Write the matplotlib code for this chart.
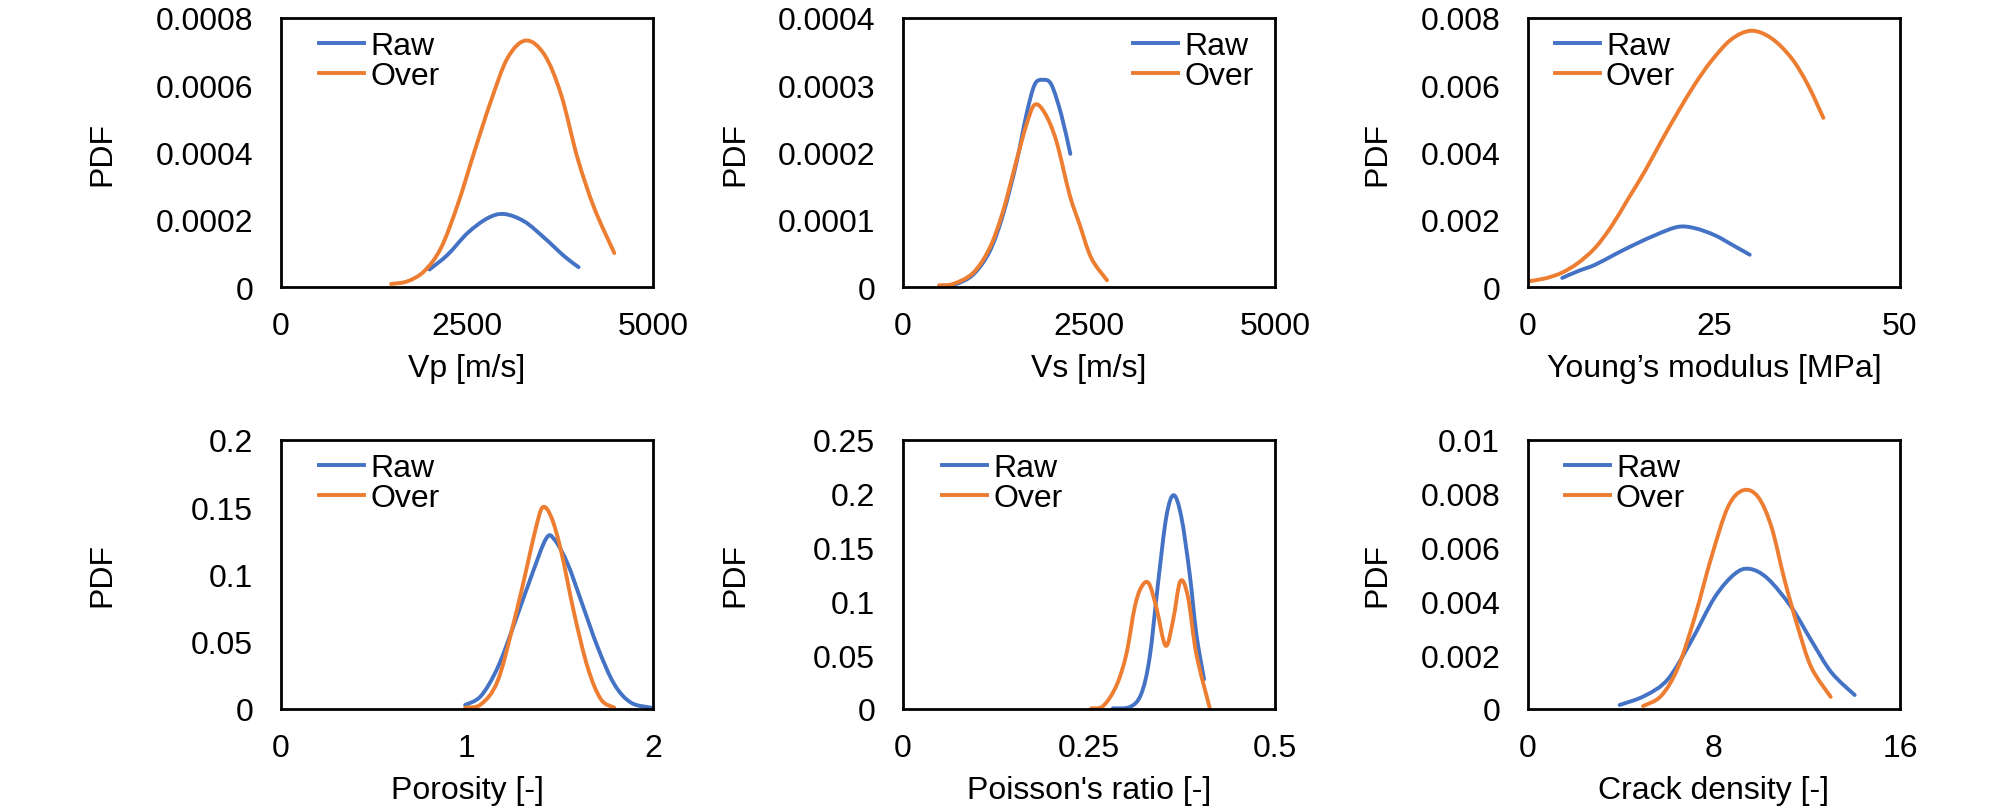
import matplotlib
matplotlib.use("Agg")
import matplotlib.pyplot as plt
import numpy as np
from matplotlib.path import Path
from matplotlib.patches import PathPatch
from matplotlib.lines import Line2D
from matplotlib.ticker import FormatStrFormatter

plt.rcParams["font.family"] = ["Liberation Sans", "DejaVu Sans"]

BLUE = "#4472C4"
ORANGE = "#ED7D31"

# values (x, PDF)
vp_raw_x = [1995, 2240, 2510, 2780, 3000, 3270, 3540, 3810, 4000]
vp_raw_y = [5.2e-5, 9.6e-5, 1.61e-4, 2.05e-4, 2.17e-4, 1.95e-4, 1.46e-4, 9.1e-5, 5.9e-5]
vp_over_x = [1480, 1700, 1925, 2150, 2375, 2600, 2820, 3045, 3290, 3540, 3765, 3985, 4210, 4480]
vp_over_y = [9e-6, 1.7e-5, 4.7e-5, 1.16e-4, 2.45e-4, 4.03e-4, 5.52e-4, 6.81e-4, 7.33e-4,
             6.91e-4, 5.72e-4, 3.84e-4, 2.35e-4, 1.01e-4]

vs_raw_x = [520, 700, 941, 1165, 1344, 1523, 1658, 1770, 1882, 1994, 2128, 2249]
vs_raw_y = [2e-6, 4e-6, 1.83e-5, 5.3e-5, 1.076e-4, 1.84e-4, 2.56e-4, 3.01e-4, 3.08e-4,
            3.01e-4, 2.56e-4, 1.98e-4]
vs_over_x = [484, 672, 941, 1165, 1344, 1523, 1658, 1770, 1904, 2061, 2240, 2374, 2531, 2742]
vs_over_y = [2.5e-6, 4.5e-6, 2.08e-5, 5.8e-5, 1.125e-4, 1.87e-4, 2.41e-4, 2.71e-4, 2.59e-4,
             2.17e-4, 1.37e-4, 9.3e-5, 4.3e-5, 1.0e-5]

ym_raw_x = [4.6, 6.7, 9.0, 11.6, 14.3, 17.5, 20.2, 22.4, 25.1, 27.8, 29.8]
ym_raw_y = [0.00027, 0.00047, 0.00066, 0.00096, 0.00126, 0.00158, 0.00179, 0.00175,
            0.00154, 0.00121, 0.00096]
ym_over_x = [0, 2.2, 4.5, 6.7, 9.0, 11.2, 13.4, 15.7, 17.9, 20.2, 22.4, 24.6, 27.3, 30.0,
             32.7, 35.4, 37.6, 39.7]
ym_over_y = [0.00017, 0.00025, 0.00042, 0.00071, 0.00116, 0.0018, 0.0026, 0.00344, 0.00433,
             0.00522, 0.00602, 0.00671, 0.00736, 0.00762, 0.0074, 0.00681, 0.00602, 0.00503]

por_raw_x = [0.99, 1.075, 1.165, 1.254, 1.344, 1.425, 1.47, 1.541, 1.613, 1.703, 1.792, 1.882, 1.99]
por_raw_y = [0.003, 0.0097, 0.0308, 0.0632, 0.098, 0.1266, 0.126, 0.108, 0.0806, 0.0458,
             0.0184, 0.0047, 0.001]
por_over_x = [0.99, 1.075, 1.165, 1.254, 1.326, 1.371, 1.407, 1.452, 1.505, 1.577, 1.649, 1.72, 1.792]
por_over_y = [0.001, 0.0035, 0.0209, 0.0657, 0.108, 0.135, 0.150, 0.143, 0.118, 0.0706,
              0.0308, 0.0072, 0.001]

poi_raw_x = [0.282, 0.305, 0.320, 0.3315, 0.3427, 0.3539, 0.3638, 0.3741, 0.3853, 0.3943, 0.4046]
poi_raw_y = [0.0006, 0.0019, 0.0137, 0.0479, 0.1163, 0.1785, 0.1987, 0.1785, 0.1256, 0.0697, 0.0277]
poi_over_x = [0.253, 0.269, 0.2867, 0.3002, 0.3114, 0.3203, 0.3302, 0.3405, 0.353, 0.3629,
              0.3728, 0.3831, 0.3943, 0.4122]
poi_over_y = [0.0006, 0.0028, 0.0215, 0.051, 0.0945, 0.1132, 0.1169, 0.0945, 0.0588, 0.0821,
              0.1188, 0.1039, 0.051, 0.0012]

cd_raw_x = [3.94, 5.02, 6.02, 7.03, 8.03, 8.89, 9.53, 10.32, 11.33, 12.19, 13.05, 14.05]
cd_raw_y = [0.00015, 0.00049, 0.00111, 0.00254, 0.00415, 0.00502, 0.00521, 0.00484,
            0.00378, 0.00254, 0.00136, 0.00052]
cd_over_x = [4.95, 5.73, 6.45, 7.17, 7.89, 8.60, 9.25, 9.89, 10.47, 11.04, 11.61, 12.19, 13.02]
cd_over_y = [0.00011, 0.00049, 0.00154, 0.00341, 0.00565, 0.00751, 0.00813, 0.00789,
             0.00677, 0.00478, 0.00303, 0.00154, 0.00045]

panels = [
    ("Vp [m/s]", vp_raw_x, vp_raw_y, vp_over_x, vp_over_y, [0, 2500, 5000], [0, 0.0002, 0.0004, 0.0006, 0.0008]),
    ("Vs [m/s]", vs_raw_x, vs_raw_y, vs_over_x, vs_over_y, [0, 2500, 5000], [0, 0.0001, 0.0002, 0.0003, 0.0004]),
    ("Young\u2019s modulus [MPa]", ym_raw_x, ym_raw_y, ym_over_x, ym_over_y, [0, 25, 50], [0, 0.002, 0.004, 0.006, 0.008]),
    ("Porosity [-]", por_raw_x, por_raw_y, por_over_x, por_over_y, [0, 1, 2], [0, 0.05, 0.1, 0.15, 0.2]),
    ("Poisson's ratio [-]", poi_raw_x, poi_raw_y, poi_over_x, poi_over_y, [0, 0.25, 0.5], [0, 0.05, 0.1, 0.15, 0.2, 0.25]),
    ("Crack density [-]", cd_raw_x, cd_raw_y, cd_over_x, cd_over_y, [0, 8, 16], [0, 0.002, 0.004, 0.006, 0.008, 0.01]),
]

lefts = [281, 903, 1528]
bottoms = [288, 710]
ylabel_x = [-0.48, -0.45, -0.405]
legend_x = [0.103, 0.618, 0.072, 0.103, 0.106, 0.099]
FS = 23
LW = 2.8


def smooth_line(ax, xs, ys, color):
    # Excel-style smoothed line: cubic Bezier segments through the points
    p = np.column_stack([xs, ys]).astype(float)
    verts = [p[0]]
    codes = [Path.MOVETO]
    n = len(p)
    for k in range(n - 1):
        p0 = p[k - 1] if k > 0 else p[k]
        p3 = p[k + 2] if k + 2 < n else p[k + 1]
        c1 = p[k] + (p[k + 1] - p0) / 6.0
        c2 = p[k + 1] - (p3 - p[k]) / 6.0
        verts += [c1, c2, p[k + 1]]
        codes += [Path.CURVE4] * 3
    ax.add_patch(PathPatch(Path(verts, codes), fill=False, edgecolor=color, lw=LW,
                           capstyle="round", joinstyle="round"))


W, H = 2008, 812
fig = plt.figure(figsize=(W / 100, H / 100), dpi=100)

for i, (xlabel, rx, ry, ox, oy, xt, yt) in enumerate(panels):
    row, col = divmod(i, 3)
    ax = fig.add_axes([lefts[col] / W, 1 - bottoms[row] / H, 372 / W, 269 / H])
    smooth_line(ax, rx, ry, BLUE)
    smooth_line(ax, ox, oy, ORANGE)
    ax.set_xlim(xt[0], xt[-1])
    ax.set_ylim(yt[0], yt[-1])
    ax.set_xticks(xt)
    ax.set_yticks(yt)
    ax.xaxis.set_major_formatter(FormatStrFormatter("%g"))
    ax.yaxis.set_major_formatter(FormatStrFormatter("%g"))
    ax.tick_params(length=0, labelsize=FS)
    ax.tick_params(axis="x", pad=17)
    ax.tick_params(axis="y", pad=20)
    for sp in ax.spines.values():
        sp.set_linewidth(2.0)
    ax.set_xlabel(xlabel, fontsize=FS)
    ax.set_ylabel("PDF", fontsize=FS)
    ax.xaxis.set_label_coords(0.5, -0.30)
    ax.yaxis.set_label_coords(ylabel_x[col], 0.5)
    ax.xaxis.label.set_va("center")
    ax.yaxis.label.set_va("center")
    handles = [Line2D([], [], color=BLUE, lw=LW), Line2D([], [], color=ORANGE, lw=LW)]
    ax.legend(handles, ["Raw", "Over"], loc="upper left", bbox_to_anchor=(legend_x[i], 0.95),
              frameon=False, fontsize=FS, handlelength=1.4, handletextpad=0.2,
              labelspacing=0.0, borderpad=0, borderaxespad=0)

fig.savefig("out.png", dpi=100)
